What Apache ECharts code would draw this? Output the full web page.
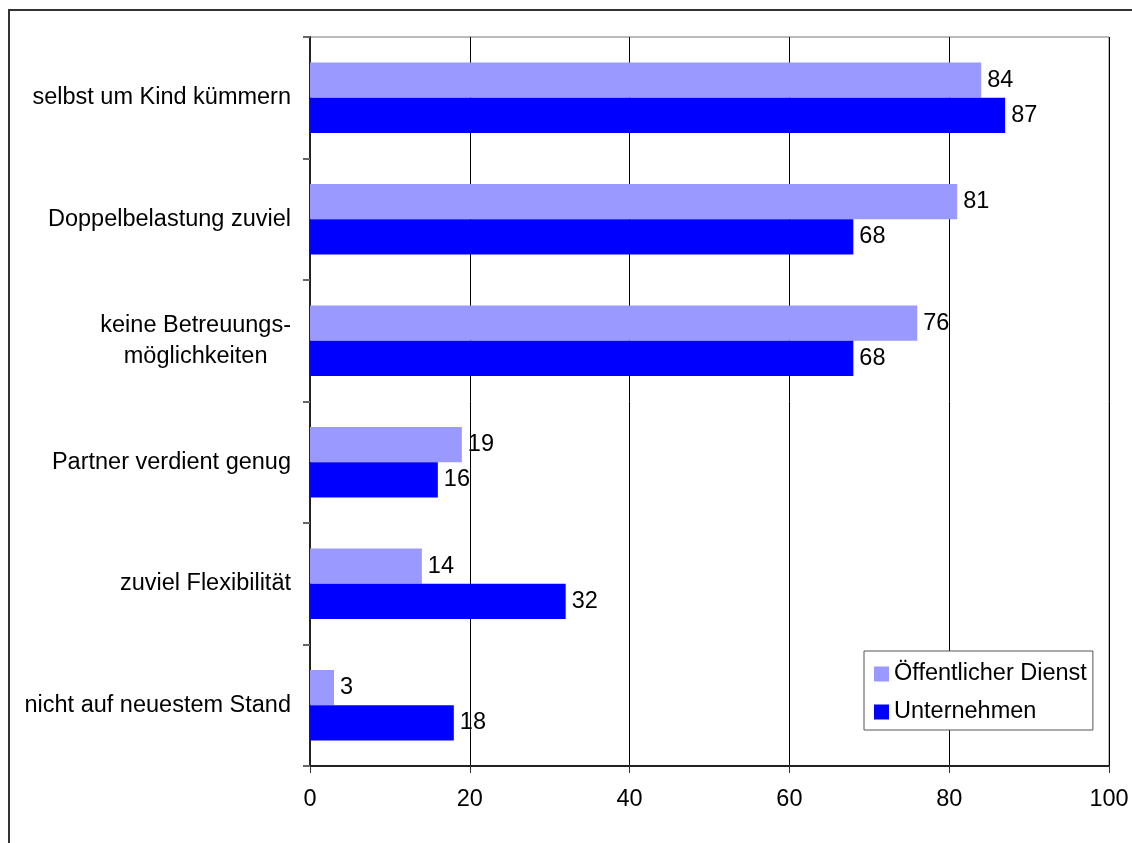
<!DOCTYPE html>
<html>
<head>
<meta charset="utf-8">
<script src="https://cdn.jsdelivr.net/npm/echarts@6/dist/echarts.min.js"></script>
<style>
html,body{margin:0;padding:0;background:#fff;overflow:hidden;}
#chart{width:1132px;height:843px;}
#frame{position:absolute;left:8px;top:9px;width:1200px;height:900px;border:2px solid #333;box-sizing:border-box;pointer-events:none;}
</style>
</head>
<body>
<div id="chart"></div>
<div id="frame"></div>
<script>
const categories = ['selbst um Kind kümmern', 'Doppelbelastung zuviel', 'keine Betreuungs-\nmöglichkeiten', 'Partner verdient genug', 'zuviel Flexibilität', 'nicht auf neuestem Stand'];
const seriesNames = ['Öffentlicher Dienst', 'Unternehmen'];
const oeffentlich = [84, 81, 76, 19, 14, 3];
const unternehmen = [87, 68, 68, 16, 32, 18];
const xTicks = [0, 20, 40, 60, 80, 100];

const FONT = '"Liberation Sans", Arial, sans-serif';
const FS = 23.5;
const chart = echarts.init(document.getElementById('chart'), null, {renderer: 'canvas'});
chart.setOption({
  animation: false,
  backgroundColor: '#fff',
  textStyle: {fontFamily: FONT},
  grid: {left: 310, right: 23, top: 37, bottom: 77, show: true, borderColor: '#777', borderWidth: 1, containLabel: false},
  legend: {
    orient: 'vertical', left: 864, top: 651,
    data: seriesNames,
    icon: 'rect', itemWidth: 15, itemHeight: 15, itemGap: 14,
    padding: [11, 6, 6, 10],
    backgroundColor: '#fff', borderColor: '#555', borderWidth: 1,
    textStyle: {fontSize: FS, color: '#000', fontFamily: FONT},
    selectedMode: false
  },
  xAxis: {
    type: 'value', min: xTicks[0], max: xTicks[xTicks.length - 1], interval: 20,
    axisLine: {show: true, onZero: false, lineStyle: {color: '#222', width: 2}},
    axisTick: {show: true, inside: false, length: 7, lineStyle: {color: '#333'}},
    axisLabel: {fontSize: FS, color: '#000', margin: 22, fontFamily: FONT},
    splitLine: {show: true, lineStyle: {color: '#000', width: 1}}
  },
  yAxis: {
    type: 'category', inverse: true, data: categories,
    axisLine: {show: true, lineStyle: {color: '#222', width: 2}},
    axisTick: {show: true, inside: false, length: 7, lineStyle: {color: '#666', width: 2}},
    axisLabel: {
      fontSize: FS, color: '#000', margin: 19, fontFamily: FONT,
      formatter: function (v) { return v.split('\n').map(function (s) { return '{c|' + s + '}'; }).join('\n'); },
      rich: {c: {fontSize: FS, color: '#000', align: 'center', lineHeight: 31, fontFamily: FONT}}
    },
    splitLine: {show: false}
  },
  series: [
    {
      name: seriesNames[0], type: 'bar', data: oeffentlich,
      barGap: '0%', barCategoryGap: '42%',
      itemStyle: {color: '#9999FF'},
      label: {show: true, position: 'right', distance: 6, fontSize: FS, color: '#000', fontFamily: FONT}
    },
    {
      name: seriesNames[1], type: 'bar', data: unternehmen,
      barGap: '0%', barCategoryGap: '42%',
      itemStyle: {color: '#0000FF'},
      label: {show: true, position: 'right', distance: 6, fontSize: FS, color: '#000', fontFamily: FONT}
    }
  ]
});
</script>
</body>
</html>
